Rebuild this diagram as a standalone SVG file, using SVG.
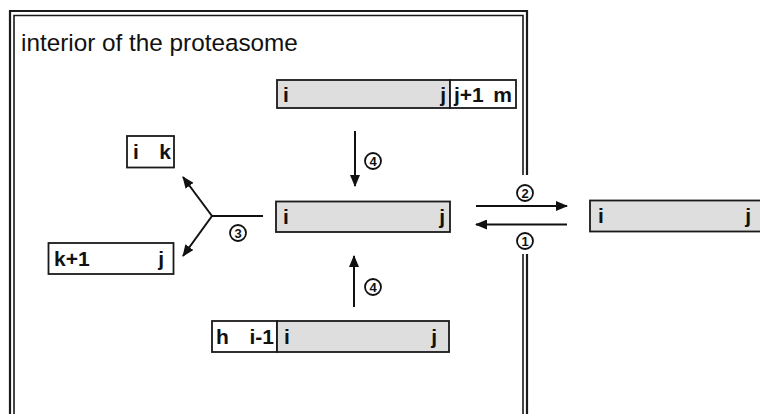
<svg xmlns="http://www.w3.org/2000/svg" width="760" height="414" viewBox="0 0 760 414">
<style>
.frame{fill:none;stroke:#1a1a1a}
.box{stroke:#1a1a1a;stroke-width:1.8}
.g{fill:#dedede}
.w{fill:#fff}
.lbl{font-family:"Liberation Sans",Arial,sans-serif;font-weight:bold;font-size:21px;fill:#111}
.title{font-family:"Liberation Sans",Arial,sans-serif;font-size:24.3px;fill:#111}
.con{stroke:#111;stroke-width:2;fill:none}
.circ{fill:#fff;stroke:#111;stroke-width:1.8}
.num{font-family:"Liberation Sans",Arial,sans-serif;font-weight:bold;font-size:13px;fill:#111;text-anchor:middle}
</style>
<defs>
<marker id="ah" markerUnits="userSpaceOnUse" markerWidth="12" markerHeight="10" refX="11" refY="5" orient="auto">
<path d="M0,0 L12,5 L0,10 z" fill="#111"/>
</marker>
</defs>
<rect width="760" height="414" fill="#fff"/>
<g id="frame">
<path class="frame" stroke-width="2.2" d="M10,420 V11 H527 V175 M527,254 V420"/>
<path class="frame" stroke-width="1.6" d="M14,420 V15.5 H523 V175 M523,254 V420"/>
<text class="title" x="21" y="51">interior of the proteasome</text>
</g>
<g id="connectors">
<line class="con" x1="355" y1="131" x2="355" y2="186" marker-end="url(#ah)"/>
<line class="con" x1="354" y1="307" x2="354" y2="256" marker-end="url(#ah)"/>
<line class="con" x1="476" y1="206" x2="567" y2="206" marker-end="url(#ah)"/>
<line class="con" x1="567" y1="224.5" x2="476" y2="224.5" marker-end="url(#ah)"/>
<line class="con" x1="263" y1="216" x2="212" y2="216"/>
<line class="con" x1="212" y1="216" x2="183" y2="177" marker-end="url(#ah)"/>
<line class="con" x1="212" y1="216" x2="183" y2="256" marker-end="url(#ah)"/>
<circle class="circ" cx="373" cy="161" r="8"/><text class="num" x="373" y="165.7">4</text>
<circle class="circ" cx="373" cy="287" r="8"/><text class="num" x="373" y="291.7">4</text>
<circle class="circ" cx="525" cy="193" r="8"/><text class="num" x="525" y="197.7">2</text>
<circle class="circ" cx="525" cy="241" r="8"/><text class="num" x="525" y="245.7">1</text>
<circle class="circ" cx="238" cy="233" r="8"/><text class="num" x="238" y="237.7">3</text>
</g>
<g id="box-top">
<rect class="box g" x="277" y="80" width="173" height="28"/>
<rect class="box w" x="450" y="80" width="66" height="28"/>
<text class="lbl" x="283" y="102">i</text>
<text class="lbl" x="446" y="102" text-anchor="end">j</text>
<text class="lbl" x="454" y="102">j+1</text>
<text class="lbl" x="512" y="102" text-anchor="end">m</text>
</g>
<g id="box-middle">
<rect class="box g" x="276" y="201.5" width="174" height="30.5"/>
<text class="lbl" x="283" y="223.5">i</text>
<text class="lbl" x="445" y="223.5" text-anchor="end">j</text>
</g>
<g id="box-right">
<rect class="box g" x="590" y="200.5" width="180" height="31"/>
<text class="lbl" x="598" y="223">i</text>
<text class="lbl" x="751" y="223" text-anchor="end">j</text>
</g>
<g id="box-bottom">
<rect class="box w" x="212" y="321" width="65" height="31"/>
<rect class="box g" x="277" y="321" width="172" height="31"/>
<text class="lbl" x="216" y="343.5">h</text>
<text class="lbl" x="274" y="343.5" text-anchor="end">i-1</text>
<text class="lbl" x="284" y="343.5">i</text>
<text class="lbl" x="437" y="343.5" text-anchor="end">j</text>
</g>
<g id="box-ik">
<rect class="box w" x="127" y="136" width="47" height="31.5"/>
<text class="lbl" x="133" y="158.5">i</text>
<text class="lbl" x="171" y="158.5" text-anchor="end">k</text>
</g>
<g id="box-k1j">
<rect class="box w" x="48.5" y="243" width="125" height="31"/>
<text class="lbl" x="54" y="266">k+1</text>
<text class="lbl" x="164" y="266" text-anchor="end">j</text>
</g>
</svg>
